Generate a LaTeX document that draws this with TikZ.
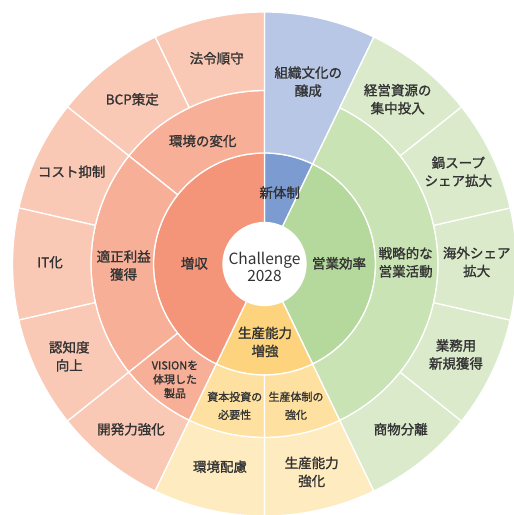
\documentclass[tikz,border=0pt]{standalone}
\usepackage{fontspec}
\setmainfont{Noto Sans CJK JP}
\newfontfamily\jpm{Noto Sans CJK JP}[FakeBold=1.4]
\definecolor{salA}{HTML}{F4957A}
\definecolor{salB}{HTML}{F7B097}
\definecolor{salC}{HTML}{FAC9B5}
\definecolor{bluA}{HTML}{7C9BD0}
\definecolor{bluC}{HTML}{B8C7E6}
\definecolor{grnA}{HTML}{B5D99D}
\definecolor{grnB}{HTML}{C9E3B5}
\definecolor{grnC}{HTML}{DAEACB}
\definecolor{yelA}{HTML}{FDD47D}
\definecolor{yelB}{HTML}{FEE1A0}
\definecolor{yelC}{HTML}{FFEBC0}
\definecolor{txt}{HTML}{333333}
\newcommand\sectorfill[5]{%
  \pgfmathsetmacro\aA{90+(#1)*25.7142857}%
  \pgfmathsetmacro\aB{90+(#2)*25.7142857}%
  \filldraw[fill=#5, draw=white, line width=1.3pt, line join=round]
    (\aA:#3) arc[start angle=\aA, end angle=\aB, radius=#3]
    -- (\aB:#4) arc[start angle=\aB, end angle=\aA, radius=#4] -- cycle;}
\tikzset{
  lab/.style={text=txt, align=center, inner sep=0pt, font=\jpm\fontsize{13.5}{18}\selectfont},
  labs/.style={text=txt, align=center, inner sep=0pt, font=\jpm\fontsize{11}{18}\selectfont},
  labv/.style={text=txt, align=center, inner sep=0pt, font=\jpm\fontsize{11}{14}\selectfont},
  labc/.style={text=txt, align=center, inner sep=0pt, font=\fontsize{15.5}{17}\selectfont}
}
\begin{document}
\begin{tikzpicture}[x=1pt,y=1pt]
\useasboundingbox (-264.5,-251) rectangle (249.5,264);
\clip (-264.5,-251) rectangle (249.5,264);
% ring 1
\sectorfill{-1}{0}{41.5}{111}{bluA}
\sectorfill{-6}{-1}{41.5}{111}{grnA}
\sectorfill{-8}{-6}{41.5}{111}{yelA}
\sectorfill{0}{6}{41.5}{111}{salA}
% ring 2
\sectorfill{0}{2}{111}{173.5}{salB}
\sectorfill{2}{5}{111}{173.5}{salB}
\sectorfill{5}{6}{111}{173.5}{salB}
\sectorfill{6}{7}{111}{173.5}{yelB}
\sectorfill{7}{8}{111}{173.5}{yelB}
\sectorfill{-6}{-1}{111}{173.5}{grnB}
\sectorfill{-1}{0}{111}{252}{bluC}
% ring 3
\foreach \k in {0,...,5}{\sectorfill{\k}{\k+1}{173.5}{252}{salC}}
\foreach \k in {6,7}{\sectorfill{\k}{\k+1}{173.5}{252}{yelC}}
\foreach \k in {8,...,12}{\sectorfill{\k}{\k+1}{173.5}{252}{grnC}}
% centre
\fill[white] (0,0) circle[radius=41.5];
% labels
\node[labc] (c) at (0,-3) {Challenge\\2028};
\node[lab] (n1) at (15.2,71.3) {新体制};
\node[lab] (n2) at (-70.2,0.7) {増収};
\node[lab] (n3) at (74.5,0.7) {営業効率};
\node[lab] (n4) at (0.5,-78) {生産能力\\増強};
\node[lab] (m1) at (-61.8,123) {環境の変化};
\node[lab] (m2) at (-140.8,-1.5) {適正利益\\獲得};
\node[labv] (m3) at (-89.5,-115.5) {VISIONを\\体現した\\製品};
\node[labs] (m4) at (-29.8,-141.8) {資本投資の\\必要性};
\node[labs] (m5) at (31.5,-141.8) {生産体制の\\強化};
\node[lab] (m6) at (141.2,1.7) {戦略的な\\営業活動};
\node[lab] (o1) at (43.8,182.3) {組織文化の\\醸成};
\node[lab] (o2) at (133.2,164.8) {経営資源の\\集中投入};
\node[lab] (o3) at (193.8,92.3) {鍋スープ\\シェア拡大};
\node[lab] (o4) at (212.2,2) {海外シェア\\拡大};
\node[lab] (o5) at (191.5,-90.5) {業務用\\新規獲得};
\node[lab] (o6) at (136.2,-165.3) {商物分離};
\node[lab] (o7) at (47.2,-208) {生産能力\\強化};
\node[lab] (o8) at (-44.5,-202.7) {環境配慮};
\node[lab] (o9) at (-133.5,-165.3) {開発力強化};
\node[lab] (o10) at (-195.2,-92.3) {認知度\\向上};
\node[lab] (o11) at (-214.5,1.7) {IT化};
\node[lab] (o12) at (-192.8,92.3) {コスト抑制};
\node[lab] (o13) at (-132.2,164.7) {BCP策定};
\node[lab] (o14) at (-47.8,205.7) {法令順守};
\end{tikzpicture}
\end{document}
